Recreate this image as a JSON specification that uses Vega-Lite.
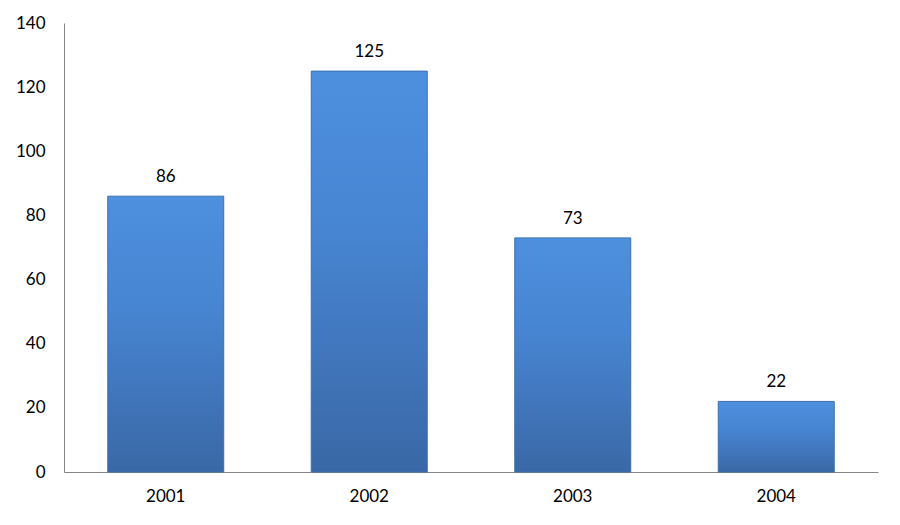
{
  "$schema": "https://vega.github.io/schema/vega-lite/v6.json",
  "width": 814,
  "height": 449,
  "autosize": {"type": "none"},
  "padding": {"left": 64, "top": 23, "right": 22, "bottom": 53},
  "background": "white",
  "config": {
    "view": {"stroke": null},
    "font": "Lato",
    "axis": {"grid": false, "ticks": false, "domainColor": "#868686", "domainWidth": 1, "labelFont": "Lato", "labelFontSize": 17, "labelColor": "#000000", "title": null}
  },
  "data": {
    "values": [
      {"year": "2001", "value": 86},
      {"year": "2002", "value": 125},
      {"year": "2003", "value": 73},
      {"year": "2004", "value": 22}
    ]
  },
  "encoding": {
    "x": {"field": "year", "type": "nominal", "scale": {"paddingInner": 0.43, "paddingOuter": 0.215}, "axis": {"labelAngle": 0, "labelPadding": 16}},
    "y": {"field": "value", "type": "quantitative", "scale": {"domain": [0, 140]}, "axis": {"values": [0, 20, 40, 60, 80, 100, 120, 140], "labelPadding": 19}}
  },
  "layer": [
    {
      "mark": {
        "type": "bar",
        "stroke": "#3d6fae",
        "strokeWidth": 1,
        "color": {
          "gradient": "linear", "x1": 0, "y1": 0, "x2": 0, "y2": 1,
          "stops": [
            {"offset": 0, "color": "#4d90de"},
            {"offset": 0.4, "color": "#4785d2"},
            {"offset": 1, "color": "#3a68a6"}
          ]
        }
      }
    },
    {
      "mark": {"type": "text", "baseline": "bottom", "dy": -10, "fontSize": 17, "font": "Lato", "color": "#000000"},
      "encoding": {"text": {"field": "value", "type": "quantitative"}}
    }
  ]
}
